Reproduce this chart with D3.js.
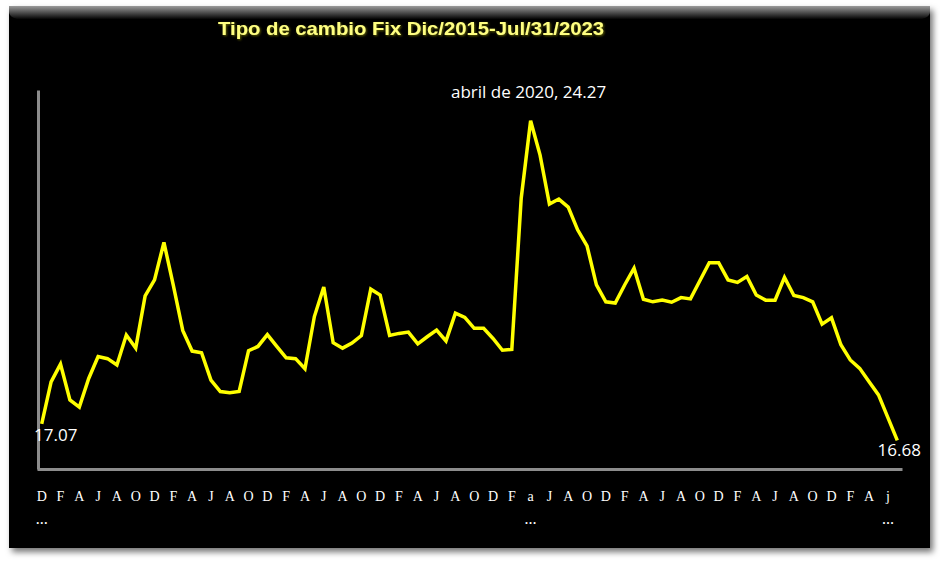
<!DOCTYPE html>
<html>
<head>
<meta charset="utf-8">
<script src="https://cdn.jsdelivr.net/npm/d3@7"></script>
<style>
  html, body { margin: 0; padding: 0; background: #ffffff; }
  svg { display: block; }
</style>
</head>
<body>
<svg id="chart" width="940" height="563"></svg>
<script>
// ---- data ----
const title = "Tipo de cambio Fix Dic/2015-Jul/31/2023";
// monthly points Dec 2015 .. Jul 2023
const months = ["dic-15",
  "ene-16","feb-16","mar-16","abr-16","may-16","jun-16","jul-16","ago-16","sep-16","oct-16","nov-16","dic-16",
  "ene-17","feb-17","mar-17","abr-17","may-17","jun-17","jul-17","ago-17","sep-17","oct-17","nov-17","dic-17",
  "ene-18","feb-18","mar-18","abr-18","may-18","jun-18","jul-18","ago-18","sep-18","oct-18","nov-18","dic-18",
  "ene-19","feb-19","mar-19","abr-19","may-19","jun-19","jul-19","ago-19","sep-19","oct-19","nov-19","dic-19",
  "ene-20","feb-20","mar-20","abr-20","may-20","jun-20","jul-20","ago-20","sep-20","oct-20","nov-20","dic-20",
  "ene-21","feb-21","mar-21","abr-21","may-21","jun-21","jul-21","ago-21","sep-21","oct-21","nov-21","dic-21",
  "ene-22","feb-22","mar-22","abr-22","may-22","jun-22","jul-22","ago-22","sep-22","oct-22","nov-22","dic-22",
  "ene-23","feb-23","mar-23","abr-23","may-23","jun-23","jul-23"];
const values = [17.07,
  18.07,18.49,17.64,17.47,18.15,18.67,18.62,18.47,19.18,18.87,20.11,20.49,
  21.38,20.36,19.29,18.80,18.76,18.11,17.84,17.81,17.84,18.81,18.91,19.19,
  18.91,18.64,18.62,18.38,19.62,20.32,19.00,18.87,18.99,19.17,20.27,20.13,
  19.17,19.22,19.25,18.97,19.14,19.30,19.04,19.70,19.60,19.34,19.34,19.10,
  18.82,18.84,22.43,24.27,23.46,22.29,22.41,22.22,21.68,21.30,20.37,19.97,
  19.94,20.37,20.77,20.03,19.97,20.01,19.96,20.07,20.04,20.47,20.90,20.90,
  20.49,20.43,20.57,20.13,20.01,20.01,20.55,20.12,20.07,19.97,19.44,19.59,
  18.95,18.59,18.39,18.07,17.76,17.22,16.68];
// axis labels shown every second month
const tickLabels = ["D","F","A","J","A","O","D","F","A","J","A","O","D","F","A","J","A","O",
  "D","F","A","J","A","O","D","F","a","J","A","O","D","F","A","J","A","O",
  "D","F","A","J","A","O","D","F","A","j"];
const tickSubLabels = ["…","","","","","","","","","","","","","","","","","",
  "","","","","","","","","…","","","","","","","","","",
  "","","","","","","","","","…"];
const yDomain = [16, 25];
const annotations = [
  {index: 0, text: "17.07"},
  {index: 52, text: "abril de 2020, 24.27"},
  {index: 91, text: "16.68"}
];

// ---- drawing ----
const svg = d3.select("#chart");
const defs = svg.append("defs");

const shadow = defs.append("filter").attr("id", "shadow")
  .attr("x", "-5%").attr("y", "-5%").attr("width", "110%").attr("height", "115%");
shadow.append("feDropShadow").attr("dx", 3).attr("dy", 4).attr("stdDeviation", 3)
  .attr("flood-color", "#000").attr("flood-opacity", 0.55);

const topGrad = defs.append("linearGradient").attr("id", "topGrad")
  .attr("x1", 0).attr("y1", 0).attr("x2", 0).attr("y2", 1);
topGrad.append("stop").attr("offset", "0%").attr("stop-color", "#9a9a9a");
topGrad.append("stop").attr("offset", "100%").attr("stop-color", "#050505");

const titleGlow = defs.append("filter").attr("id", "tglow");
titleGlow.append("feDropShadow").attr("dx", 1).attr("dy", 1).attr("stdDeviation", 0.8)
  .attr("flood-color", "#6b6b00").attr("flood-opacity", 0.9);

// panel
svg.append("rect").attr("x", 9).attr("y", 6).attr("width", 921).attr("height", 542)
  .attr("fill", "#050505").attr("filter", "url(#shadow)");
svg.append("path")
  .attr("d", "M9,6 L930,6 L930,12 Q930,17 922,19 L17,19 Q9,17 9,12 Z")
  .attr("fill", "url(#topGrad)");

const x = d3.scaleBand()
  .domain(d3.range(values.length))
  .range([37, 902])
  .paddingInner(0).paddingOuter(0);
const y = d3.scaleLinear().domain(yDomain).range([469, 90]);
const cx = i => x(i) + x.bandwidth() / 2;

// title
svg.append("text")
  .attr("x", 411).attr("y", 35)
  .attr("text-anchor", "middle")
  .attr("font-family", "Liberation Sans, Arial, sans-serif")
  .attr("font-weight", "bold")
  .attr("font-size", 19)
  .attr("textLength", 386)
  .attr("lengthAdjust", "spacingAndGlyphs")
  .attr("fill", "#ffff80")
  .attr("filter", "url(#tglow)")
  .text(title);

// y axis line
const yAxis = d3.axisLeft(y).tickValues([]).tickSizeOuter(0);
const gy = svg.append("g").attr("transform", "translate(38,0)").call(yAxis);
gy.select(".domain").attr("stroke", "#8c8c8c").attr("stroke-width", 3);

// x axis
const tickIdx = d3.range(0, values.length, 2);
const xAxis = d3.axisBottom(x)
  .tickValues(tickIdx)
  .tickSize(0)
  .tickSizeOuter(0)
  .tickPadding(22)
  .tickFormat((d, i) => tickLabels[i]);
const gx = svg.append("g").attr("transform", "translate(0,469)").call(xAxis);
gx.select(".domain").attr("stroke", "#8c8c8c").attr("stroke-width", 3);
gx.selectAll(".tick text")
  .attr("fill", "#ffffff")
  .attr("font-family", "Liberation Serif, 'DejaVu Serif', serif")
  .attr("font-size", 14);
gx.selectAll(".tick").append("text")
  .attr("y", 55)
  .attr("fill", "#ffffff")
  .attr("text-anchor", "middle")
  .attr("font-family", "Liberation Serif, 'DejaVu Serif', serif")
  .attr("font-weight", "bold")
  .attr("font-size", 12)
  .text((d, i) => tickSubLabels[i]);

// line
const line = d3.line().x((d, i) => cx(i)).y(d => y(d));
svg.append("path").datum(values)
  .attr("d", line)
  .attr("fill", "none")
  .attr("stroke", "#ffff00")
  .attr("stroke-width", 3.5)
  .attr("stroke-linejoin", "miter");

// data labels
const labelPos = {
  0: {dx: 14, dy: 17, anchor: "middle"},
  52: {dx: -2, dy: -23, anchor: "middle"},
  91: {dx: 2, dy: 16, anchor: "middle"}
};
svg.selectAll("text.dlabel").data(annotations).enter().append("text")
  .attr("class", "dlabel")
  .attr("x", d => cx(d.index) + labelPos[d.index].dx)
  .attr("y", d => y(values[d.index]) + labelPos[d.index].dy)
  .attr("text-anchor", d => labelPos[d.index].anchor)
  .attr("fill", "#ffffff")
  .attr("font-family", "'Open Sans', 'Noto Sans', sans-serif")
  .attr("font-size", 17)
  .text(d => d.text);
</script>
</body>
</html>
